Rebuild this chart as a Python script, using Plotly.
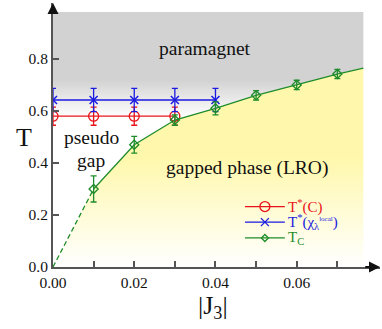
import plotly.graph_objects as go

SERIF = "Liberation Serif"
RED = "#E8141A"
BLUE = "#1A1AE0"
GREEN = "#1E8C2A"
GRAY = "#D2D2D2"
YELLOW = "#FFF8AC"

# T*(C) from specific heat
tstar_c_x = [0.00, 0.01, 0.02, 0.03]
tstar_c_y = [0.58, 0.58, 0.58, 0.58]
tstar_c_err = [0.035, 0.035, 0.035, 0.035]

# T*(chi local)
tstar_chi_x = [0.00, 0.01, 0.02, 0.03, 0.04]
tstar_chi_y = [0.642, 0.642, 0.642, 0.642, 0.642]
tstar_chi_err = [0.045, 0.045, 0.045, 0.045, 0.045]

# Tc
tc_x = [0.01, 0.02, 0.03, 0.04, 0.05, 0.06, 0.07]
tc_y = [0.30, 0.47, 0.565, 0.61, 0.66, 0.70, 0.742]
tc_err = [0.05, 0.032, 0.02, 0.025, 0.018, 0.018, 0.018]

# guide-to-the-eye ends of the phase boundary
tc_origin = (0.0, 0.0)
tc_end = (0.0764, 0.765)
region_top = 0.98

x_ticks = [0.00, 0.01, 0.02, 0.03, 0.04, 0.05, 0.06, 0.07]
x_ticktext = ["0.00", "", "0.02", "", "0.04", "", "0.06", ""]
y_ticks = [0.0, 0.2, 0.4, 0.6, 0.8]

X_MAX = 0.0805
Y_MAX = 1.015

bx = [tc_origin[0]] + tc_x + [tc_end[0]]
by = [tc_origin[1]] + tc_y + [tc_end[1]]

fig = go.Figure()

# gapped phase (yellow, fading to white at the bottom)
fig.add_trace(go.Scatter(
    x=bx + [tc_end[0]], y=by + [0.0],
    mode="none", fill="toself", showlegend=False, hoverinfo="skip",
    fillgradient=dict(type="vertical", start=0.0, stop=0.42,
                      colorscale=[[0, "#FFFFFF"], [1, YELLOW]]),
))

# paramagnet (gray, fading into the pseudo gap)
fig.add_trace(go.Scatter(
    x=[0.0, tc_end[0]] + bx[::-1], y=[region_top, region_top] + by[::-1],
    mode="none", fill="toself", showlegend=False, hoverinfo="skip",
    fillgradient=dict(type="vertical", start=0.575, stop=0.72,
                      colorscale=[[0, "#FFFFFF"], [1, GRAY]]),
))

# dashed extrapolation to the origin, solid extension to the edge
fig.add_trace(go.Scatter(
    x=[tc_origin[0], tc_x[0]], y=[tc_origin[1], tc_y[0]],
    mode="lines", line=dict(color=GREEN, width=1.3, dash="5px,3px"),
    showlegend=False, hoverinfo="skip",
))
fig.add_trace(go.Scatter(
    x=[tc_x[-1], tc_end[0]], y=[tc_y[-1], tc_end[1]],
    mode="lines", line=dict(color=GREEN, width=1.3),
    showlegend=False, hoverinfo="skip",
))

fig.add_trace(go.Scatter(
    x=tstar_c_x, y=tstar_c_y, mode="lines+markers", showlegend=False,
    line=dict(color=RED, width=1.3),
    marker=dict(symbol="circle-open", size=10, color=RED, line=dict(width=1.3)),
    error_y=dict(type="data", array=tstar_c_err, color=RED, thickness=1.3, width=3),
))
fig.add_trace(go.Scatter(
    x=tstar_chi_x, y=tstar_chi_y, mode="lines+markers", showlegend=False,
    line=dict(color=BLUE, width=1.3),
    marker=dict(symbol="x-thin-open", size=8, color=BLUE, line=dict(width=1.5, color=BLUE)),
    error_y=dict(type="data", array=tstar_chi_err, color=BLUE, thickness=1.3, width=3),
))
fig.add_trace(go.Scatter(
    x=tc_x, y=tc_y, mode="lines+markers", showlegend=False,
    line=dict(color=GREEN, width=1.3),
    marker=dict(symbol="diamond-open", size=7, color=GREEN, line=dict(width=1.3)),
    error_y=dict(type="data", array=tc_err, color=GREEN, thickness=1.3, width=3),
))

texts = [
    ("paramagnet", 0.0374, 0.842),
    ("pseudo", 0.0094, 0.497),
    ("gap", 0.0094, 0.408),
    ("gapped phase (LRO)", 0.0478, 0.381),
]
for t, x, y in texts:
    fig.add_annotation(x=x, y=y, text=t, showarrow=False,
                       font=dict(family=SERIF, size=19.5, color="#111"))

# hand-made legend (keys drawn in pixels around an anchor)
legend_rows = [
    (RED, "circle", "T<sup>*</sup>(C)", 0.229),
    (BLUE, "x", "T<sup>*</sup>(χ<sub>λ</sub><sup><span style='font-size:7px'>local</span></sup>)", 0.170),
    (GREEN, "diamond", "T<sub>C</sub>", 0.110),
]
key_x0, key_x1, key_xm, text_x = 0.587, 0.709, 0.648, 0.714
for color, sym, label, ly in legend_rows:
    fig.add_shape(type="line", xref="paper", yref="paper", x0=key_x0, x1=key_x1,
                  y0=ly, y1=ly, line=dict(color=color, width=1.3))
    common = dict(xref="paper", yref="paper", xsizemode="pixel", ysizemode="pixel",
                  xanchor=key_xm, yanchor=ly, line=dict(color=color, width=1.3))
    if sym == "circle":
        fig.add_shape(type="circle", x0=-5, x1=5, y0=-5, y1=5,
                      fillcolor="rgba(0,0,0,0)", **common)
    elif sym == "x":
        fig.add_shape(type="path", path="M-4,-4L4,4M-4,4L4,-4", **common)
    else:
        fig.add_shape(type="path", path="M0,-3.5L3.5,0L0,3.5L-3.5,0Z", **common)
    fig.add_annotation(x=text_x, y=ly, xref="paper", yref="paper", text=label,
                       xanchor="left", yanchor="middle", showarrow=False,
                       font=dict(family=SERIF, size=15, color=color))

# axis arrows
fig.add_annotation(x=X_MAX, y=0, ax=X_MAX - 0.004, ay=0, xref="x", yref="y",
                   axref="x", ayref="y", text="", showarrow=True,
                   arrowhead=2, arrowsize=1.1, arrowwidth=2, arrowcolor="#111")
fig.add_annotation(x=0, y=Y_MAX, ax=0, ay=Y_MAX - 0.04, xref="x", yref="y",
                   axref="x", ayref="y", text="", showarrow=True,
                   arrowhead=2, arrowsize=1.1, arrowwidth=2, arrowcolor="#111")

# axis titles
fig.add_annotation(x=-0.12, y=0.49, xref="paper", yref="paper", text="T",
                   showarrow=False, font=dict(family=SERIF, size=26, color="#111"))
fig.add_annotation(x=0.49, y=-0.218, xref="paper", yref="paper",
                   text="|J<sub>3</sub>|", showarrow=False,
                   font=dict(family=SERIF, size=26, color="#111"))

fig.update_layout(
    width=382, height=329,
    margin=dict(l=53, r=2, t=3, b=62),
    paper_bgcolor="white", plot_bgcolor="white",
    font=dict(family=SERIF, size=15, color="#111"),
    showlegend=False,
)
fig.update_xaxes(range=[0, X_MAX], tickvals=x_ticks, ticktext=x_ticktext,
                 showgrid=False, zeroline=False, showline=True, linecolor="#555",
                 linewidth=2, ticks="inside", ticklen=6, tickwidth=1.5,
                 tickcolor="#555", tickfont=dict(family=SERIF, size=15.5))
fig.update_yaxes(range=[0, Y_MAX], tickvals=y_ticks,
                 ticktext=[f"{v:.1f}" for v in y_ticks],
                 showgrid=False, zeroline=False, showline=True, linecolor="#555",
                 linewidth=2, ticks="inside", ticklen=6, tickwidth=1.5,
                 tickcolor="#555", tickfont=dict(family=SERIF, size=15.5))

fig.write_html("out.html", config={"displayModeBar": False},
               post_script="document.body.style.margin='0';")
